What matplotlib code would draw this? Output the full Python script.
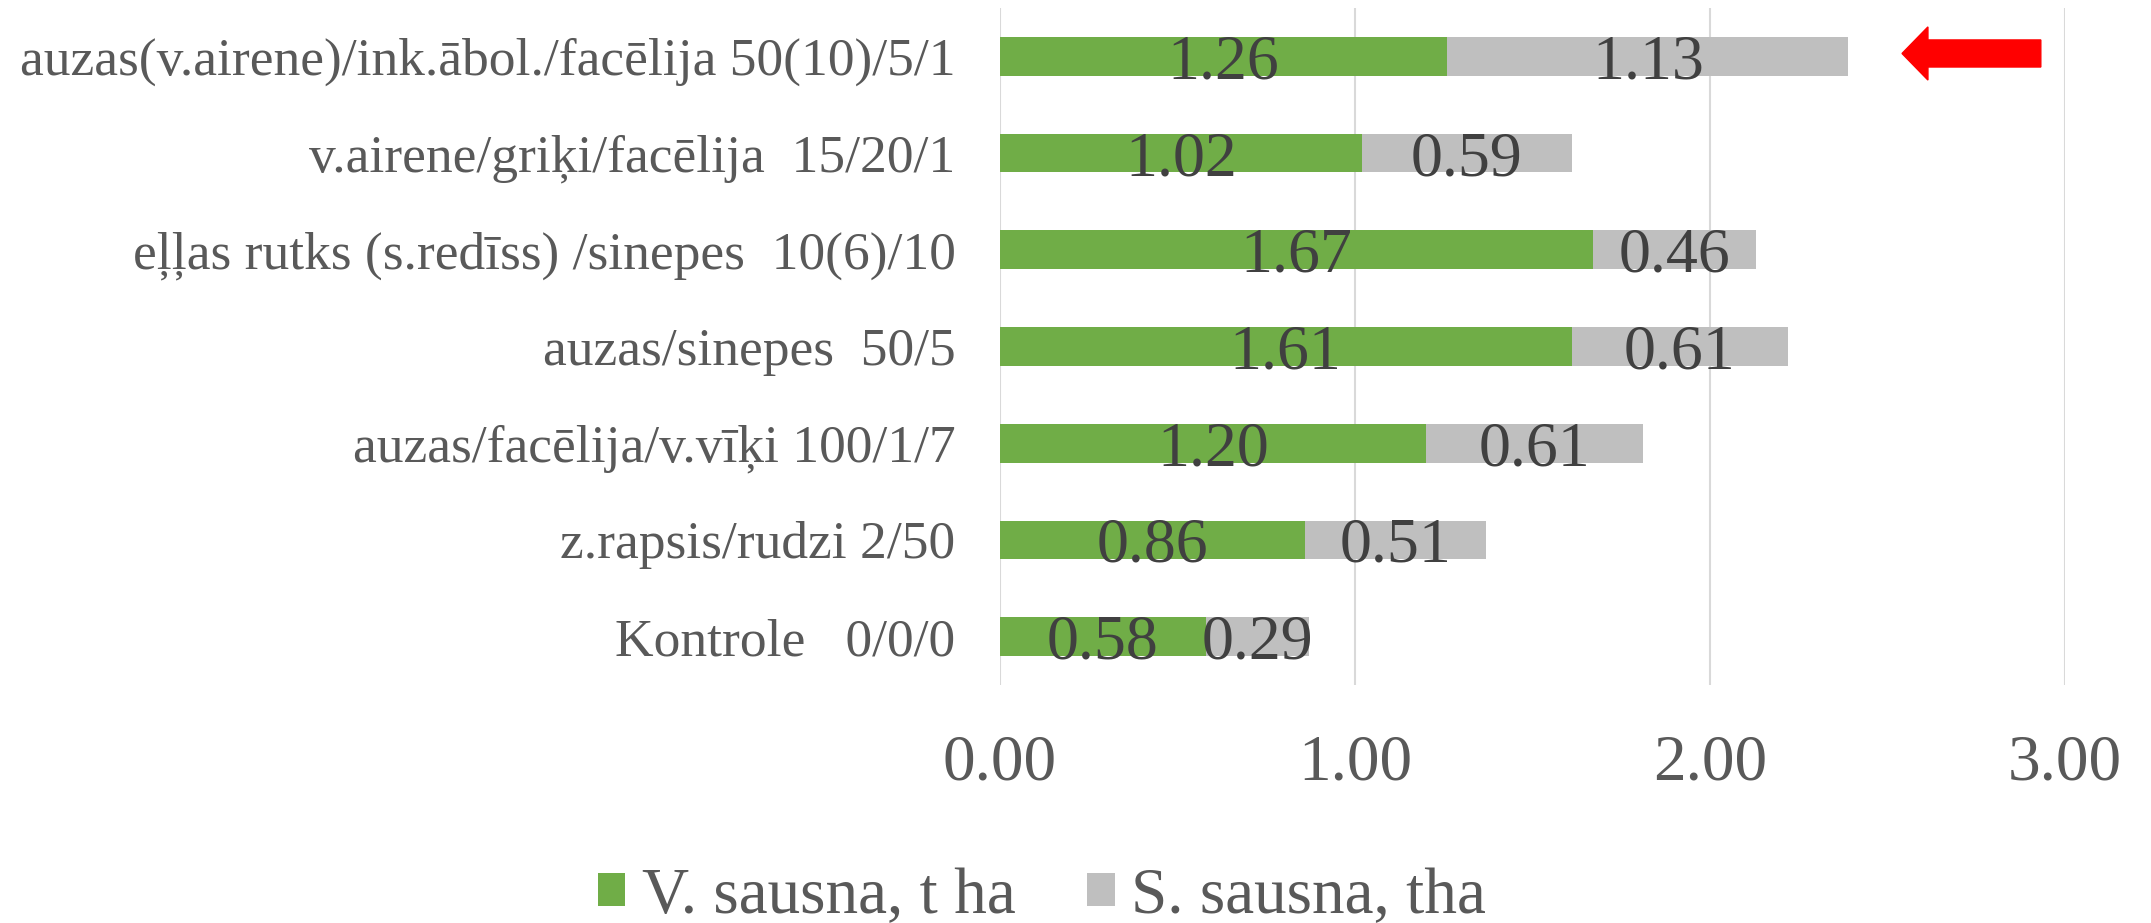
import numpy as np
import matplotlib
matplotlib.use('Agg')
from matplotlib import pyplot as plt
from matplotlib.patches import FancyArrow

plt.rcParams['font.family'] = ['Liberation Serif', 'DejaVu Serif']

# dati (no augšas uz leju)
kategorijas = ['auzas(v.airene)/ink.ābol./facēlija 50(10)/5/1',
               'v.airene/griķi/facēlija  15/20/1',
               'eļļas rutks (s.redīss) /sinepes  10(6)/10',
               'auzas/sinepes  50/5',
               'auzas/facēlija/v.vīķi 100/1/7',
               'z.rapsis/rudzi 2/50',
               'Kontrole   0/0/0']
v_sausna = [1.26, 1.02, 1.67, 1.61, 1.20, 0.86, 0.58]
s_sausna = [1.13, 0.59, 0.46, 0.61, 0.61, 0.51, 0.29]
xticks = [0, 1, 2, 3]
xticklabels = ['0.00', '1.00', '2.00', '3.00']

green = '#70AD47'
grey = '#BFBFBF'

fig = plt.figure(figsize=(21.51, 9.23), dpi=100)
ax = fig.add_axes([0.4649, 0.2579, 0.4951, 0.7334])

y = np.arange(len(kategorijas))[::-1]
b1 = ax.barh(y, v_sausna, height=0.4, color=green, label='V. sausna, t ha', zorder=2)
b2 = ax.barh(y, s_sausna, left=v_sausna, height=0.4, color=grey, label='S. sausna, tha', zorder=2)

for bars in (b1, b2):
    for r in bars:
        ax.text(r.get_x() + r.get_width() / 2, r.get_y() + r.get_height() / 2,
                '%.2f' % r.get_width(), ha='center', va='center_baseline',
                fontsize=46, color='#404040', zorder=3)

ax.set_xlim(0, 3)
ax.set_ylim(-0.5, len(kategorijas) - 0.5)
ax.set_xticks(xticks)
ax.set_xticklabels(xticklabels)
ax.set_yticks(y)
ax.set_yticklabels(kategorijas)
ax.tick_params(axis='x', length=0, pad=35, labelsize=47, labelcolor='#595959')
ax.tick_params(axis='y', length=0, pad=32, labelsize=38.5, labelcolor='#595959')
ax.grid(axis='x', color='#D9D9D9', linewidth=1.5, zorder=0)
for s in ax.spines.values():
    s.set_visible(False)

# sarkanā bulta
ax.add_patch(FancyArrow(2.932, 6.03, -0.391, 0, width=0.28, head_width=0.55,
                        head_length=0.073, length_includes_head=True,
                        color='#FF0000', clip_on=False, zorder=4))

fig.legend(handles=[b1, b2], loc='center', bbox_to_anchor=(1042 / 2151, 1 - 897 / 923),
           ncol=2, frameon=False, fontsize=47, labelcolor='#595959',
           handlelength=0.42, handleheight=0.42, handletextpad=0.25, columnspacing=1.1)

fig.savefig('out.png', dpi=100)
